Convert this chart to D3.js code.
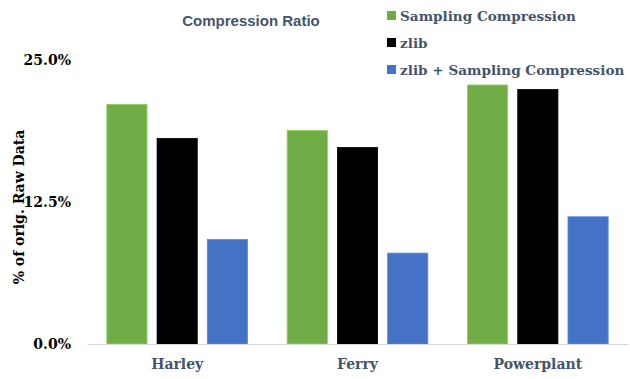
<!DOCTYPE html>
<html>
<head>
<meta charset="utf-8">
<script src="https://cdn.jsdelivr.net/npm/d3@7"></script>
<style>
  html, body { margin: 0; padding: 0; background: #fff; }
  svg { display: block; }
</style>
</head>
<body>
<svg id="chart" width="630" height="379"></svg>
<script>
const categories = ["Harley", "Ferry", "Powerplant"];
const seriesNames = ["Sampling Compression", "zlib", "zlib + Sampling Compression"];
const samplingValues = [21.1, 18.8, 22.8];
const zlibValues = [18.1, 17.3, 22.4];
const zlibSamplingValues = [9.2, 8.0, 11.2];
const yTicks = [0, 12.5, 25];
const colors = ["#70ad47", "#000000", "#4472c4"];

const seriesValues = [samplingValues, zlibValues, zlibSamplingValues];
const rows = categories.map((c, i) => ({
  category: c,
  values: seriesNames.map((s, j) => ({ series: s, value: seriesValues[j][i], idx: j }))
}));

const svg = d3.select("#chart");
const margin = { left: 87, right: 2 };
const W = 630;

const serif = "'DejaVu Serif', serif";
const textColor = "#44546a";

const x = d3.scaleBand().domain(categories).range([margin.left, W - margin.right]).paddingInner(0.22).paddingOuter(0.11);
const xInner = d3.scaleBand().domain(seriesNames).range([0, x.bandwidth()]).paddingInner(0.2);
const y = d3.scaleLinear().domain([0, 25]).range([344, 60]);

// y axis tick labels
const yAxis = d3.axisLeft(y).tickValues(yTicks).tickFormat(d => d3.format(".1f")(d) + "%").tickSize(0).tickPadding(0);
const yg = svg.append("g").attr("transform", `translate(71,0)`).call(yAxis);
yg.select(".domain").remove();
yg.selectAll("text")
  .attr("font-family", serif).attr("font-weight", "bold").attr("font-size", 14)
  .attr("fill", "#000");

// bars
const groups = svg.append("g").selectAll("g").data(rows).join("g")
  .attr("transform", d => `translate(${x(d.category)},0)`);
groups.selectAll("rect").data(d => d.values).join("rect")
  .attr("x", d => xInner(d.series))
  .attr("width", xInner.bandwidth())
  .attr("y", d => y(d.value))
  .attr("height", d => y(0) - y(d.value))
  .attr("fill", d => colors[d.idx])
  .attr("stroke", d => d3.color(colors[d.idx]).brighter(0.6))
  .attr("stroke-width", 0.8);

// x axis
const xAxis = d3.axisBottom(x).tickSize(0).tickPadding(15);
const xg = svg.append("g").attr("transform", `translate(0,${y(0)})`).call(xAxis);
xg.select(".domain").attr("stroke", "#d9d9d9").attr("stroke-width", 1.2);
xg.selectAll("text")
  .attr("font-family", serif).attr("font-weight", "bold").attr("font-size", 14)
  .attr("fill", textColor);

// y axis title
svg.append("text")
  .attr("transform", `translate(19,207) rotate(-90)`)
  .attr("text-anchor", "middle")
  .attr("dy", "0.35em")
  .attr("font-family", serif).attr("font-weight", "bold").attr("font-size", 14)
  .attr("fill", "#000")
  .text("% of orig. Raw Data");

// chart title
svg.append("text")
  .attr("x", 251).attr("y", 26)
  .attr("text-anchor", "middle")
  .attr("font-family", "'Liberation Sans', Arial, sans-serif").attr("font-weight", "bold").attr("font-size", 15)
  .attr("fill", "#44546a")
  .text("Compression Ratio");

// legend
const legend = svg.append("g").selectAll("g").data(seriesNames).join("g")
  .attr("transform", (d, i) => `translate(387,${16 + i * 27})`);
legend.append("rect").attr("x", 0).attr("y", -5).attr("width", 9).attr("height", 9)
  .attr("fill", (d, i) => colors[i]);
legend.append("text").attr("x", 13).attr("y", 0).attr("dy", "0.35em")
  .attr("font-family", serif).attr("font-weight", "bold").attr("font-size", 13.6)
  .attr("fill", textColor)
  .text(d => d);
</script>
</body>
</html>
